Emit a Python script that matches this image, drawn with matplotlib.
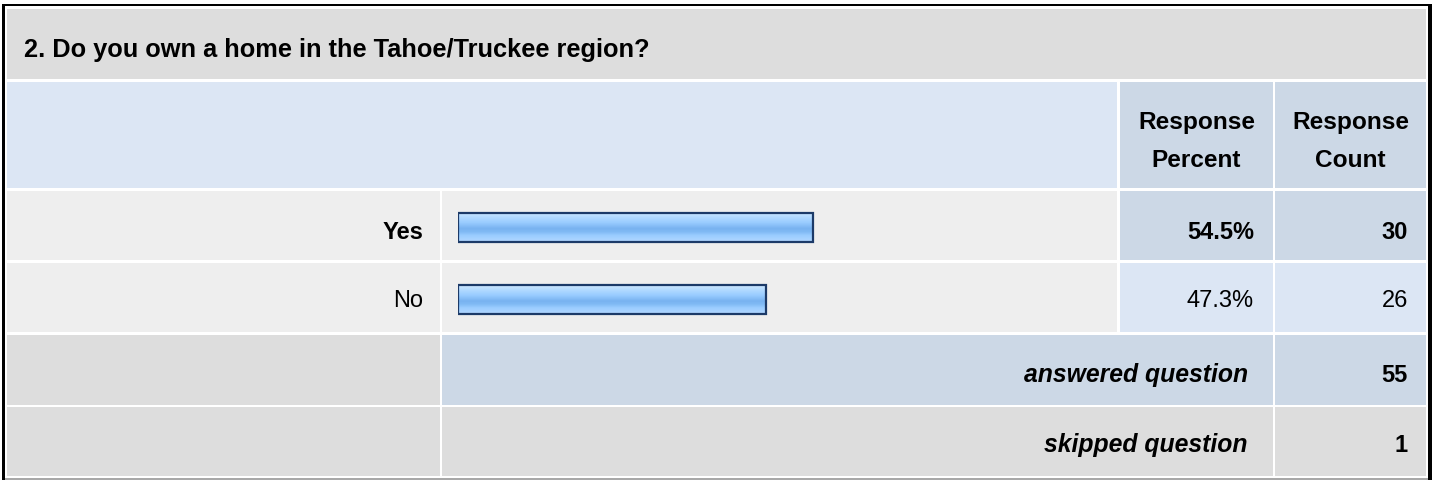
import matplotlib.pyplot as plt
import numpy as np
from matplotlib.colors import LinearSegmentedColormap
from matplotlib.patches import Rectangle

plt.rcParams['font.family'] = ['Liberation Sans', 'DejaVu Sans']

question = "2. Do you own a home in the Tahoe/Truckee region?"
answers = ["Yes", "No"]
percents = [54.5, 47.3]
counts = [30, 26]
answered = 55
skipped = 1

W, H = 1435, 481
GRAY = '#dddddd'
LIGHT = '#eeeeee'
BLUE = '#dce6f4'
DBLUE = '#ccd8e6'

fig = plt.figure(figsize=(W / 100, H / 100), dpi=100)
ax = fig.add_axes([0, 0, 1, 1])
ax.set_xlim(0, W)
ax.set_ylim(H, 0)
ax.axis('off')


def cell(x0, x1, y0, y1, color):
    ax.add_patch(Rectangle((x0, y0), x1 - x0, y1 - y0, facecolor=color, lw=0))


def txt(x, y, s, ha='right', size=17, weight='normal', style='normal'):
    ax.text(x, y, s, ha=ha, va='baseline', fontsize=size, fontweight=weight,
            fontstyle=style, color='black')


# column edges and row edges of the table
cols = [(7, 440), (442, 1117), (1120, 1273), (1275, 1426)]
rows = [(10, 80), (83, 189), (192, 261), (264, 333), (336, 406), (408, 477)]

# title row
cell(7, 1426, *rows[0], GRAY)
txt(24, 57, question, ha='left', size=18.3, weight='bold')

# header row
cell(cols[0][0], cols[1][1], *rows[1], BLUE)
cell(*cols[2], *rows[1], DBLUE)
cell(*cols[3], *rows[1], DBLUE)
for c, word in zip(cols[2:], ["Percent", "Count"]):
    xm = (c[0] + c[1]) / 2
    txt(xm, 129, "Response", ha='center', size=17.6, weight='bold')
    txt(xm, 167, word, ha='center', size=17.6, weight='bold')

# answer rows, the top answer is highlighted
top = int(np.argmax(percents))
baselines = [239, 307]
for i, (lab, p, n) in enumerate(zip(answers, percents, counts)):
    r = rows[2 + i]
    hi = i == top
    cell(*cols[0], *r, LIGHT)
    cell(*cols[1], *r, LIGHT)
    cell(*cols[2], *r, DBLUE if hi else BLUE)
    cell(*cols[3], *r, DBLUE if hi else BLUE)
    w = 'bold' if hi else 'normal'
    txt(423, baselines[i], lab, weight=w)
    txt(1254, baselines[i], f"{p}%", weight=w)
    txt(1408, baselines[i], str(n), weight=w)

# summary rows
cell(*cols[0], *rows[4], GRAY)
cell(cols[1][0], cols[2][1], *rows[4], DBLUE)
cell(*cols[3], *rows[4], DBLUE)
txt(1248, 382, "answered question", size=17.8, weight='bold', style='italic')
txt(1408, 382, str(answered), weight='bold')

cell(*cols[0], *rows[5], GRAY)
cell(cols[1][0], cols[2][1], *rows[5], GRAY)
cell(*cols[3], *rows[5], GRAY)
txt(1248, 452, "skipped question", size=17.8, weight='bold', style='italic')
txt(1408, 452, str(skipped), weight='bold')

# frame
ax.add_patch(Rectangle((2, 5), 3, H - 5, facecolor='black', lw=0))
ax.add_patch(Rectangle((2, 5), 1430, 2, facecolor='black', lw=0))
ax.add_patch(Rectangle((1428, 5), 4, H - 5, facecolor='black', lw=0))
ax.add_patch(Rectangle((5, 479), 1423, 2, facecolor='#a8a8a8', lw=0))

# bars, 0-100 % mapped onto the bar column
bax = fig.add_axes([458 / W, 0, (1109 - 458) / W, 1])
bax.patch.set_alpha(0)
bax.axis('off')
bar_cmap = LinearSegmentedColormap.from_list('bar', [
    (0.0, '#cfe8ff'), (0.15, '#b4dbff'), (0.35, '#99ccff'),
    (0.55, '#78b2f0'), (0.66, '#80baf4'), (0.78, '#99ccff'), (1.0, '#b2d8ff')])
grad = np.linspace(0, 1, 64).reshape(-1, 1)
bar_y = [228.5, 300.5]
bar_h = 29
for p, yc in zip(percents, bar_y):
    bax.imshow(grad, cmap=bar_cmap, aspect='auto', interpolation='bilinear',
               extent=[0, p, yc + bar_h / 2, yc - bar_h / 2], zorder=1)
bax.barh(bar_y, percents, height=bar_h, left=0, fill=False,
         edgecolor='#1c3a68', linewidth=1.6, zorder=2)
bax.set_xlim(0, 100)
bax.set_ylim(H, 0)

fig.savefig('out.png', dpi=100)
